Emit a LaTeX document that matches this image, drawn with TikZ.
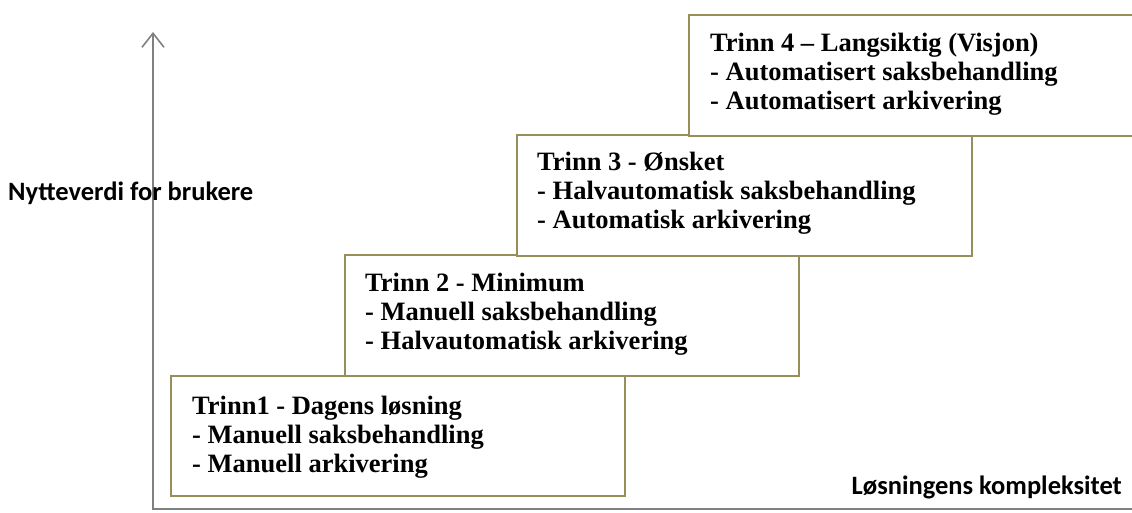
\documentclass[tikz,border=0pt]{standalone}
\usepackage{fontspec}
\setmainfont{Liberation Serif}
\newfontfamily\axisfont{Carlito}
\usetikzlibrary{arrows.meta,calc}
\definecolor{boxline}{RGB}{152,142,92}
\definecolor{axisline}{RGB}{128,128,128}
\tikzset{
  x=1pt, y=-1pt,
  stepbox/.style={draw=boxline, line width=2.2pt, fill=white, rectangle},
  steptext/.style={anchor=base west, inner sep=0pt, font=\fontsize{26.5}{30}\selectfont\bfseries},
  axislabel/.style={inner sep=0pt, font=\axisfont\fontsize{26.5}{30}\selectfont\bfseries},
  axis/.style={draw=axisline, line width=2pt},
}
\begin{document}
\begin{tikzpicture}
\useasboundingbox (0,0) rectangle (1132,513);

% axes
\coordinate (origin) at (153,509);
\coordinate (ytop) at (153,32);
\coordinate (xend) at (1140,509);
\draw[axis, -{Straight Barb[length=14pt,width=22pt,line width=1.6pt]}] (origin) -- (ytop);
\draw[axis] ($(origin)+(-1,0)$) -- (xend);

% step boxes
\draw[stepbox] (171,376) rectangle (625,496);
\coordinate (b1) at (171,376);
\draw[stepbox] (345,255) rectangle (799,376);
\coordinate (b2) at (345,255);
\draw[stepbox] (517,135) rectangle (972,256);
\coordinate (b3) at (517,135);
\draw[stepbox] (689,15) rectangle (1150,136);
\coordinate (b4) at (689,15);

% box texts
\node[steptext] (t1a) at ($(b1)+(21,38)$) {Trinn1 - Dagens løsning};
\node[steptext] (t1b) at ($(b1)+(21,67)$) {- Manuell saksbehandling};
\node[steptext] (t1c) at ($(b1)+(21,96)$) {- Manuell arkivering};

\node[steptext] (t2a) at ($(b2)+(20,36)$) {Trinn 2 - Minimum};
\node[steptext] (t2b) at ($(b2)+(20,65)$) {- Manuell saksbehandling};
\node[steptext] (t2c) at ($(b2)+(20,94)$) {- Halvautomatisk arkivering};

\node[steptext] (t3a) at ($(b3)+(20,36)$) {Trinn 3 - Ønsket};
\node[steptext] (t3b) at ($(b3)+(20,65)$) {- Halvautomatisk saksbehandling};
\node[steptext] (t3c) at ($(b3)+(20,94)$) {- Automatisk arkivering};

\node[steptext] (t4a) at ($(b4)+(21,37)$) {Trinn 4 – Langsiktig (Visjon)};
\node[steptext] (t4b) at ($(b4)+(21,66)$) {- Automatisert saksbehandling};
\node[steptext] (t4c) at ($(b4)+(21,95)$) {- Automatisert arkivering};

% axis labels
\node[axislabel, anchor=west] (ylab) at (8,193) {Nytteverdi for brukere};
\node[axislabel, anchor=east] (xlab) at (1122,487) {Løsningens kompleksitet};
\end{tikzpicture}
\end{document}
